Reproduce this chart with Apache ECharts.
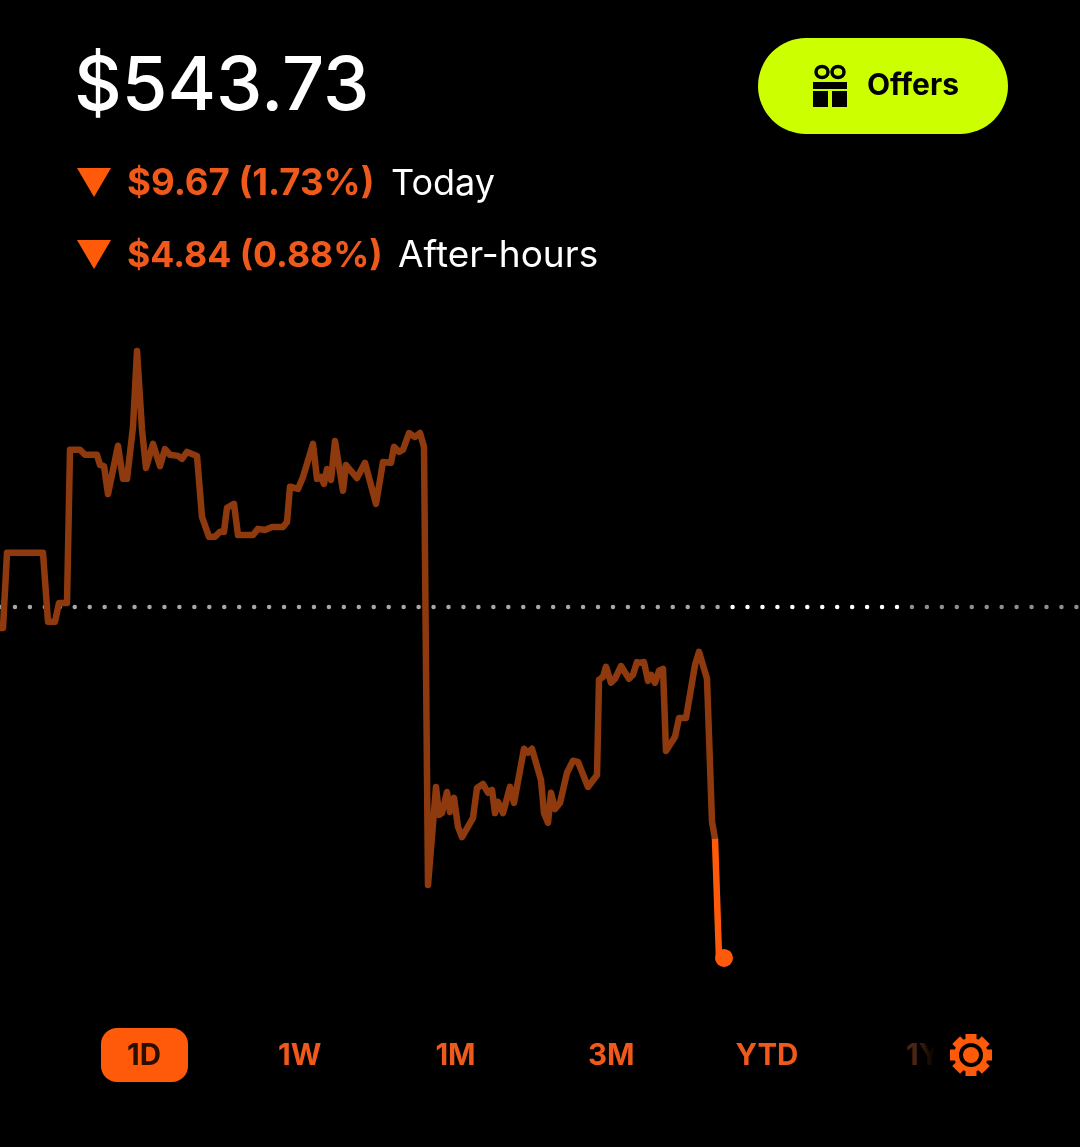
<!DOCTYPE html>
<html>
<head>
<meta charset="utf-8">
<title>$543.73</title>
<script src="https://cdn.jsdelivr.net/npm/echarts@6/dist/echarts.min.js"></script>
<style>
  html, body { margin: 0; padding: 0; background: #000; }
  #chart { width: 1080px; height: 1147px; }
</style>
</head>
<body>
<div id="chart"></div>
<script>
// minutes into the session, price in dollars
var minutes = [0, 3, 7, 43, 48, 55, 59, 67, 70, 80, 85, 97, 100, 104, 108, 118, 123, 127, 133, 137, 142, 146, 153, 160, 165, 170, 178, 182, 187, 197, 202, 209, 215, 220, 224, 227, 234, 238, 253, 258, 265, 272, 283, 287, 290, 298, 303, 313, 317, 321, 324, 327, 331, 335, 343, 346, 357, 365, 376, 383, 391, 394, 399, 403, 409, 415, 420, 424, 428, 436, 439, 442, 447, 450, 454, 458, 462, 473, 477, 483, 488, 492, 495, 498, 503, 510, 514, 524, 528, 532, 541, 544, 548, 551, 555, 560, 567, 573, 578, 588, 597, 599, 603, 606, 611, 615, 621, 629, 633, 637, 640, 644, 648, 651, 655, 659, 663, 666, 675, 679, 686, 695, 699, 707, 712, 715];
var prices = [552.82, 552.82, 554.89, 554.89, 552.99, 552.99, 553.51, 553.51, 557.73, 557.73, 557.59, 557.59, 557.31, 557.28, 556.51, 557.84, 556.93, 556.93, 558.36, 560.45, 558.28, 557.23, 557.89, 557.28, 557.75, 557.59, 557.56, 557.48, 557.67, 557.56, 555.88, 555.33, 555.33, 555.47, 555.47, 556.13, 556.24, 555.38, 555.38, 555.55, 555.52, 555.60, 555.60, 555.74, 556.71, 556.65, 556.98, 557.89, 556.93, 556.98, 556.79, 557.20, 556.90, 557.97, 556.60, 557.31, 556.95, 557.37, 556.24, 557.39, 557.37, 557.81, 557.67, 557.73, 558.19, 558.08, 558.19, 557.81, 545.74, 548.44, 547.67, 547.72, 548.30, 547.75, 548.14, 547.34, 547.06, 547.59, 548.41, 548.52, 548.28, 548.36, 547.72, 548.03, 547.72, 548.44, 548.00, 549.49, 549.38, 549.49, 548.63, 547.72, 547.45, 548.28, 547.83, 548.00, 548.83, 549.16, 549.13, 548.44, 548.77, 551.39, 551.47, 551.75, 551.31, 551.42, 551.77, 551.42, 551.53, 551.88, 551.86, 551.88, 551.36, 551.53, 551.31, 551.64, 551.69, 549.43, 549.82, 550.34, 550.34, 551.80, 552.16, 551.42, 547.48, 547.01];
var afterMinutes = [715, 719, 724];
var afterPrices = [547.01, 543.73, 543.73];
var previousClose = 553.40;
var tabLabels = ['1D', '1W', '1M', '3M', 'YTD'];

var ORANGE = '#ff5a0a';
var LIME = '#ccff00';
var DIM_LINE = '#8f3a0e';
var DOT_PITCH = 14.95;

function pairs(xs, ys) {
  return xs.map(function (x, i) { return [x, ys[i]]; });
}

// dotted baseline, one piece per brightness
function dots(from, to, color) {
  return {
    type: 'line',
    data: [[from, previousClose], [to, previousClose]],
    symbol: 'none',
    silent: true,
    z: 1,
    lineStyle: { color: color, width: 4.5, cap: 'round', type: [0, DOT_PITCH], opacity: 1 }
  };
}

function label(x, y, text, fill, font, align) {
  return {
    type: 'text',
    x: x,
    y: y,
    silent: true,
    style: { text: text, fill: fill, font: font, textAlign: align || 'left', textVerticalAlign: 'middle' }
  };
}

function downArrow(y) {
  return {
    type: 'polygon',
    silent: true,
    shape: { points: [[77, y], [111, y], [94, y + 29]] },
    style: { fill: ORANGE }
  };
}

var graphics = [
  label(74, 88, '$543.73', '#fff', '500 74px Inter'),
  downArrow(168),
  label(127, 184, '$9.67 (1.73%)', '#f0591c', '700 36.6px Inter'),
  label(391, 184, 'Today', '#fff', '400 36px Inter'),
  downArrow(240),
  label(127, 256, '$4.84 (0.88%)', '#f0591c', '700 35.6px Inter'),
  label(398, 256, 'After-hours', '#fff', '400 37px Inter'),

  // offers button
  { type: 'rect', silent: true, shape: { x: 758, y: 38, width: 250, height: 96, r: 48 }, style: { fill: LIME } },
  { type: 'rect', silent: true, shape: { x: 813, y: 82, width: 34, height: 7 }, style: { fill: '#000' } },
  { type: 'rect', silent: true, shape: { x: 813, y: 91, width: 15, height: 16 }, style: { fill: '#000' } },
  { type: 'rect', silent: true, shape: { x: 832, y: 91, width: 15, height: 16 }, style: { fill: '#000' } },
  { type: 'ellipse', silent: true, shape: { cx: 822, cy: 72, rx: 6, ry: 5.5 }, style: { fill: 'none', stroke: '#000', lineWidth: 3.5 } },
  { type: 'ellipse', silent: true, shape: { cx: 838, cy: 72, rx: 6, ry: 5.5 }, style: { fill: 'none', stroke: '#000', lineWidth: 3.5 } },
  label(867, 86, 'Offers', '#000', '700 30px Inter'),

  // range tabs
  { type: 'rect', silent: true, shape: { x: 101, y: 1028, width: 87, height: 54, r: 16 }, style: { fill: ORANGE } },
  label(906, 1056, '1Y', '#4c2412', '700 29.5px Inter'),
  {
    type: 'rect',
    silent: true,
    shape: { x: 917, y: 1035, width: 24, height: 40 },
    style: {
      fill: { type: 'linear', x: 0, y: 0, x2: 1, y2: 0, colorStops: [{ offset: 0, color: 'rgba(0,0,0,0)' }, { offset: 0.75, color: '#000' }, { offset: 1, color: '#000' }] }
    }
  }
];

tabLabels.forEach(function (name, i) {
  var fill = i === 0 ? '#2a0e00' : '#f0591c';
  graphics.push(label(144 + i * 155.75, 1056, name, fill, '700 29.5px Inter', 'center'));
});

// settings gear
[0, 45, 90, 135].forEach(function (deg) {
  graphics.push({
    type: 'rect',
    silent: true,
    x: 971,
    y: 1055,
    rotation: deg * Math.PI / 180,
    shape: { x: -5.5, y: -21, width: 11, height: 42 },
    style: { fill: ORANGE }
  });
});
graphics.push(
  { type: 'circle', silent: true, shape: { cx: 971, cy: 1055, r: 17 }, style: { fill: ORANGE } },
  { type: 'circle', silent: true, shape: { cx: 971, cy: 1055, r: 12 }, style: { fill: '#000' } },
  { type: 'circle', silent: true, shape: { cx: 971, cy: 1055, r: 8 }, style: { fill: ORANGE } }
);

var chart = echarts.init(document.getElementById('chart'));

var option = {
  backgroundColor: '#000',
  animation: false,
  grid: { left: 0, right: 0, top: 0, bottom: 0 },
  xAxis: { type: 'value', min: 0, max: 1080, show: false },
  yAxis: { type: 'value', min: 538.52, max: 570.12, show: false },
  graphic: graphics,
  series: [
    dots(0, 725, '#a8a8a8'),
    dots(DOT_PITCH * 49, 905, '#ffffff'),
    dots(DOT_PITCH * 61, 1080, '#8f8f8f'),
    {
      type: 'line',
      data: pairs(minutes, prices),
      symbol: 'none',
      silent: true,
      z: 2,
      lineStyle: { color: DIM_LINE, width: 6.5, join: 'round', cap: 'round' }
    },
    {
      type: 'line',
      data: pairs(afterMinutes, afterPrices),
      symbol: 'none',
      silent: true,
      z: 3,
      lineStyle: { color: ORANGE, width: 6.5, join: 'round', cap: 'butt' }
    },
    {
      type: 'scatter',
      data: [[afterMinutes[2], afterPrices[2]]],
      symbolSize: 18,
      silent: true,
      z: 4,
      itemStyle: { color: ORANGE, opacity: 1 }
    }
  ]
};

chart.setOption(option);
</script>
</body>
</html>
